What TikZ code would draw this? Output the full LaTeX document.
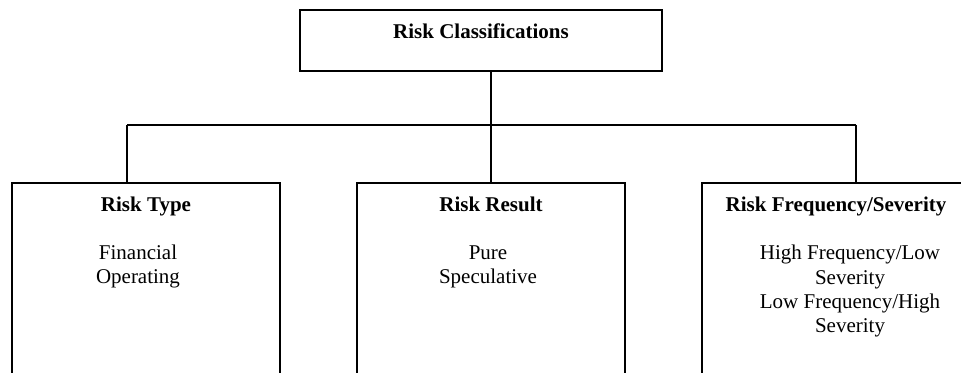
\documentclass[tikz,border=0pt]{standalone}
\usepackage{fontspec}
\setmainfont{Liberation Serif}
\usetikzlibrary{positioning,calc}

\begin{document}
\begin{tikzpicture}[
  x=0.5pt, y=-0.5pt,
  font=\fontsize{10.5}{12}\selectfont,
  box/.style={draw, line width=0.6pt, inner sep=0pt, outer sep=0pt,
              anchor=north west, minimum width=134pt, minimum height=120pt},
  head/.style={anchor=base, inner sep=0pt, font=\fontsize{10.5}{12}\selectfont\bfseries},
  body/.style={anchor=base, inner sep=0pt, align=center},
  conn/.style={line width=0.6pt},
]
\useasboundingbox (0,0) rectangle (961,373);
\clip (0,0) rectangle (961,373);

% boxes
\node[box, minimum width=181pt, minimum height=30.5pt] (top) at (300,10) {};
\node[box] (type) at (12,183) {};
\node[box] (result) at (357,183) {};
\node[box] (freq) at (702,183) {};

% titles and entries (base of a body = its last line)
\node[head] (topHd) at ($(top.north)+(0,29)$) {Risk Classifications};
\node[head] (typeHd) at ($(type.north)+(0,29)$) {Risk Type};
\node[head] (resultHd) at ($(result.north)+(0,29)$) {Risk Result};
\node[head] (freqHd) at ($(freq.north)+(0,29)$) {Risk Frequency/Severity};

\node[body] (typeTxt) at ($(typeHd.base)+(-8,72)$) {Financial\\Operating};
\node[body] (resultTxt) at ($(resultHd.base)+(-3,72)$) {Pure\\Speculative};
\node[body] (freqTxt) at ($(freqHd.base)+(14,120)$)
  {High Frequency/Low\\Severity\\Low Frequency/High\\Severity};

% tree lines
\coordinate (barL) at (127,125);
\coordinate (barR) at (856,125);
\draw[conn] (top.south -| result.north) -- (result.north);
\draw[conn] (barL) -- (barR);
\draw[conn] (barL) -- (barL |- type.north);
\draw[conn] (barR) -- (barR |- freq.north);
\end{tikzpicture}
\end{document}
